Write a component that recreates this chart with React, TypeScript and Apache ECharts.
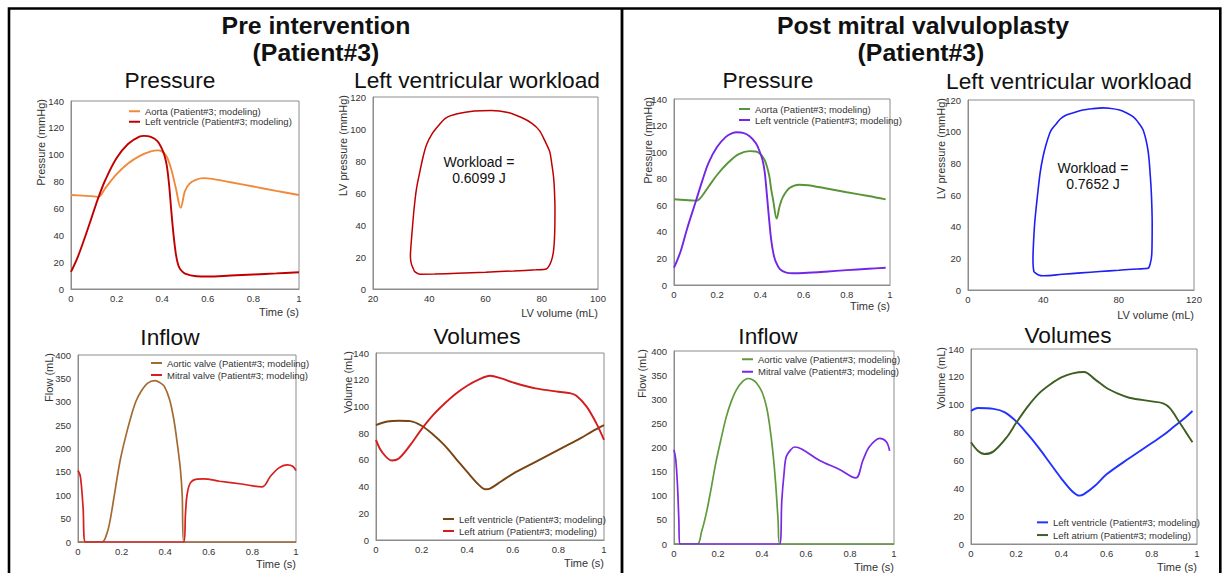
import React, { useEffect, useRef } from 'react';
import * as echarts from 'echarts';

type Pt = [number, number];

// ---------- Pre intervention data ----------
const prePressureAorta: Pt[] = [
  [0, 70], [0.05, 69.5], [0.1, 69], [0.12, 68.6], [0.15, 75], [0.2, 85.5], [0.25, 93.5], [0.3, 99],
  [0.35, 102.5], [0.38, 103.2], [0.4, 102.3], [0.42, 98.5], [0.44, 89], [0.46, 75], [0.481, 60.5],
  [0.5, 73], [0.52, 78.5], [0.55, 81.5], [0.58, 82.6], [0.62, 82], [0.7, 79.5], [0.8, 76.3], [0.9, 73.1], [1.0, 70],
];
const prePressureLV: Pt[] = [
  [0, 12.8], [0.03, 24], [0.06, 38], [0.09, 53], [0.12, 68], [0.15, 81], [0.2, 97.5], [0.25, 108],
  [0.3, 113.5], [0.32, 114], [0.35, 113.3], [0.38, 110], [0.4, 104], [0.41, 99.5], [0.42, 92],
  [0.43, 78], [0.44, 58], [0.45, 40], [0.46, 26], [0.47, 18], [0.48, 14.5], [0.5, 11.5], [0.55, 9.5],
  [0.6, 9.3], [0.7, 10], [0.8, 10.8], [0.9, 11.6], [1.0, 12.5],
];
const prePVLoop: Pt[] = [
  [34.8, 10.8], [36.6, 9.2], [42, 9.3], [50, 9.8], [60, 10.5], [70, 11.3], [78, 12], [81.6, 12.5],
  [83.3, 17], [84.2, 24], [84.6, 35], [84.7, 50], [84.5, 62], [84.2, 70], [83.5, 79], [82.8, 86],
  [81, 93], [79.2, 99], [76.5, 103.5], [73, 107], [68, 110.3], [62, 111.6], [56, 111.2], [50, 109.5],
  [46, 107], [43.7, 103], [41, 97], [39, 90], [37.8, 82.5], [36.5, 72], [35.4, 62], [34.6, 50],
  [34, 38], [33.5, 27], [33.3, 21], [33.6, 16], [34.8, 10.8],
];
const preFlowAortic: Pt[] = [
  [0, 0], [0.11, 0], [0.133, 19], [0.148, 48], [0.17, 110], [0.194, 176], [0.22, 228], [0.243, 268],
  [0.265, 300], [0.289, 322], [0.32, 340], [0.353, 345], [0.375, 341], [0.396, 333], [0.42, 305],
  [0.44, 261], [0.457, 205], [0.47, 154], [0.478, 100], [0.485, 0], [1.0, 0],
];
const preFlowMitral: Pt[] = [
  [0, 153], [0.011, 140], [0.023, 76], [0.034, 0], [0.485, 0], [0.493, 60], [0.5, 100], [0.515, 126],
  [0.546, 134.5], [0.576, 135], [0.65, 130], [0.75, 124], [0.845, 118], [0.882, 140], [0.92, 158],
  [0.96, 165], [0.985, 162], [1.0, 153],
];
const preVolumeLV: Pt[] = [
  [0, 86], [0.05, 88.7], [0.1, 89.3], [0.15, 89], [0.2, 85.5], [0.25, 79], [0.3, 71], [0.35, 61],
  [0.4, 51], [0.45, 41.5], [0.48, 38], [0.5, 38.5], [0.55, 44], [0.6, 49.5], [0.7, 58.5], [0.8, 67.5],
  [0.85, 72], [0.9, 76.5], [0.95, 81.5], [1.0, 86],
];
const preVolumeLA: Pt[] = [
  [0, 75], [0.026, 66], [0.07, 59.5], [0.1, 61], [0.15, 71], [0.2, 83], [0.25, 93.5], [0.3, 102],
  [0.35, 109.5], [0.4, 115.5], [0.45, 120], [0.5, 123], [0.55, 121], [0.6, 118], [0.7, 113.5],
  [0.8, 111], [0.85, 110], [0.879, 108], [0.923, 100], [0.966, 87.5], [1.0, 75],
];

// ---------- Post mitral valvuloplasty data ----------
const postPressureAorta: Pt[] = [
  [0, 64.5], [0.05, 64], [0.1, 63.5], [0.11, 63.7], [0.13, 67], [0.16, 74], [0.2, 83], [0.25, 92],
  [0.3, 98.5], [0.35, 100.8], [0.38, 100.5], [0.4, 98.5], [0.42, 94], [0.44, 83], [0.45, 72],
  [0.46, 63], [0.475, 50], [0.49, 60], [0.505, 66.5], [0.535, 73], [0.58, 75.5], [0.62, 75.1],
  [0.7, 72.8], [0.8, 69.8], [0.9, 67], [0.98, 64.5],
];
const postPressureLV: Pt[] = [
  [0, 13], [0.03, 25], [0.06, 42], [0.1, 62.5], [0.13, 78], [0.16, 92], [0.2, 104], [0.24, 111.5],
  [0.27, 114.3], [0.29, 115], [0.32, 114.5], [0.35, 112], [0.38, 106.5], [0.4, 99], [0.41, 94],
  [0.42, 85], [0.43, 68], [0.44, 50], [0.45, 34], [0.46, 24], [0.47, 18], [0.49, 12], [0.52, 9.3],
  [0.55, 8.8], [0.6, 9], [0.7, 10], [0.8, 11.2], [0.9, 12.2], [0.98, 13],
];
const postPVLoop: Pt[] = [
  [35, 11.5], [37.5, 9.5], [40, 9], [50, 9.9], [60, 10.8], [70, 11.7], [80, 12.5], [90, 13.3],
  [95.6, 13.7], [96.8, 16.8], [97.6, 23], [97.8, 42], [97.4, 60], [96.8, 72], [95.6, 88], [93, 101],
  [90, 106.5], [87.6, 109.5], [84, 112], [80.5, 113.7], [75, 114.8], [71.7, 115], [66, 114.5],
  [61, 113.7], [56, 112], [52.2, 110.5], [49, 108], [46.9, 105], [44.5, 101.5], [43.4, 99],
  [41.5, 92], [39.8, 84], [38.3, 74], [37.2, 63], [36.2, 52], [35.4, 42], [34.8, 30], [34.5, 20],
  [34.6, 15], [35, 11.5],
];
const postFlowAortic: Pt[] = [
  [0, 0], [0.105, 0], [0.125, 25], [0.147, 64], [0.17, 118], [0.19, 168], [0.215, 220], [0.238, 264],
  [0.26, 295], [0.283, 319], [0.31, 336], [0.336, 343], [0.355, 341], [0.374, 334], [0.4, 315],
  [0.42, 285], [0.435, 245], [0.45, 188], [0.462, 125], [0.473, 50], [0.48, 0], [1.0, 0],
];
const postFlowMitral: Pt[] = [
  [0, 195], [0.008, 175], [0.016, 120], [0.022, 50], [0.026, 0], [0.48, 0], [0.49, 90], [0.5, 145],
  [0.51, 181], [0.53, 195], [0.548, 201], [0.58, 197], [0.662, 173], [0.75, 155], [0.826, 137],
  [0.859, 174], [0.889, 202], [0.935, 219], [0.965, 212], [0.98, 193],
];
const postVolumeLV: Pt[] = [
  [0, 95.5], [0.03, 97.6], [0.1, 97], [0.15, 94.5], [0.2, 88], [0.25, 79], [0.3, 69], [0.35, 58],
  [0.4, 47], [0.45, 37.5], [0.48, 34.7], [0.5, 35.8], [0.55, 42], [0.6, 50], [0.7, 61.5],
  [0.8, 72.5], [0.85, 78], [0.9, 84.5], [0.95, 91], [0.98, 95.5],
];
const postVolumeLA: Pt[] = [
  [0, 73], [0.03, 67], [0.06, 64.6], [0.1, 66.5], [0.16, 77], [0.2, 87], [0.25, 98.5], [0.3, 108],
  [0.35, 114.5], [0.4, 119.6], [0.45, 122.5], [0.5, 123.5], [0.55, 118], [0.6, 112], [0.65, 108],
  [0.7, 105], [0.8, 102.4], [0.85, 101], [0.88, 97.5], [0.92, 88], [0.95, 80.5], [0.98, 73],
];

// ---------- Texts ----------
const LABELS: Record<string, string> = {
  prePAo: 'Aorta (Patient#3; modeling)',
  prePLV: 'Left ventricle (Patient#3; modeling)',
  prePV: 'LV PV loop',
  preFAo: 'Aortic valve (Patient#3; modeling)',
  preFMi: 'Mitral valve (Patient#3; modeling)',
  preVLV: 'Left ventricle (Patient#3; modeling)',
  preVLA: 'Left atrium (Patient#3; modeling)',
  postPAo: 'Aorta (Patient#3; modeling)',
  postPLV: 'Left ventricle (Patient#3; modeling)',
  postPV: 'LV PV loop',
  postFAo: 'Aortic valve (Patient#3; modeling)',
  postFMi: 'Mitral valve (Patient#3; modeling)',
  postVLV: 'Left ventricle (Patient#3; modeling)',
  postVLA: 'Left atrium (Patient#3; modeling)',
};
const preWorkload = 'Workload =\n0.6099 J';
const postWorkload = 'Workload =\n0.7652 J';

const FONT = '"Liberation Sans", Arial, Helvetica, sans-serif';
const AX = '#8c8c8c';
const TXT = '#333333';

function xAxis(gridIndex: number, min: number, max: number, interval: number, name: string, pad: number) {
  return {
    type: 'value', gridIndex, min, max, interval,
    name, nameLocation: 'end', nameGap: 0, nameMoveOverlap: false,
    nameTextStyle: { fontSize: 11, color: TXT, fontFamily: FONT, align: 'right', verticalAlign: 'top', padding: [pad, 0, 0, 0] },
    axisLine: { show: true, onZero: false, lineStyle: { color: AX, width: 1 } },
    axisTick: { show: false },
    splitLine: { show: false },
    axisLabel: { fontSize: 9.5, color: TXT, margin: 4, fontFamily: FONT },
  };
}
function yAxis(gridIndex: number, min: number, max: number, interval: number, name: string, gap: number) {
  return {
    type: 'value', gridIndex, min, max, interval,
    name, nameLocation: 'end', nameGap: 2, nameRotate: 90, nameMoveOverlap: false,
    nameTextStyle: { fontSize: 11, color: TXT, fontFamily: FONT, align: 'right', verticalAlign: 'bottom', padding: [0, 0, gap, 0] },
    axisLine: { show: true, onZero: false, lineStyle: { color: AX, width: 1 } },
    axisTick: { show: false },
    splitLine: { show: false },
    axisLabel: { fontSize: 9.5, color: TXT, margin: 7, fontFamily: FONT },
  };
}
function line(name: string, gi: number, data: Pt[], color: string, width: number, smooth: number) {
  return {
    type: 'line', name, xAxisIndex: gi, yAxisIndex: gi, data,
    showSymbol: false, symbol: 'none', smooth,
    lineStyle: { color, width }, itemStyle: { color },
    silent: true, animation: false,
  };
}
function legend(names: string[], left: number, top: number, spacing: number) {
  return {
    show: true, orient: 'vertical', left, top, data: names, icon: 'rect',
    itemWidth: 11, itemHeight: 2, itemGap: 0, padding: 0, selectedMode: false,
    formatter: (n: string) => LABELS[n],
    textStyle: { fontSize: 9.5, color: TXT, fontFamily: FONT, lineHeight: spacing },
  };
}
function grid(left: number, top: number, width: number, height: number) {
  return { left, top, width, height, show: true, borderColor: AX, borderWidth: 1, containLabel: false, outerBoundsMode: 'none' };
}
function text(t: string, x: number, y: number, font: string, lh?: number) {
  return {
    type: 'text', x, y, silent: true,
    style: {
      text: t, font, fill: '#111', textFill: '#111',
      align: 'center', textAlign: 'center', verticalAlign: 'middle', textVerticalAlign: 'middle',
      lineHeight: lh, textLineHeight: lh,
    },
  };
}

const C = {
  preAo: '#f08a3a', preLV: '#c00000',
  preFAo: '#a36a32', preFMi: '#d81e1e',
  preVLV: '#7a4312', preVLA: '#d41c1c',
  postAo: '#5a9438', postLV: '#7326e6', postPV: '#1e1ef5',
  postFAo: '#5f9a3c', postFMi: '#7a28e6',
  postVLV: '#2233ff', postVLA: '#3f5e22',
};

export default function App() {
  const ref = useRef<HTMLDivElement>(null);
  useEffect(() => {
    if (!ref.current) return;
    const chart = echarts.init(ref.current, undefined, { renderer: 'svg' });
    const TITLE = `bold 24.8px ${FONT}`;
    const SUB = `22.7px ${FONT}`;
    const option: any = {
      animation: false,
      backgroundColor: '#ffffff',
      textStyle: { fontFamily: FONT },
      grid: [
        grid(71, 101, 228, 188),
        grid(373, 97, 225, 192),
        grid(78, 355, 218, 187),
        grid(376, 353, 228, 187),
        grid(674, 99, 216, 186),
        grid(968, 100, 226, 190),
        grid(674, 351, 220, 193),
        grid(971, 349, 226, 195),
      ],
      xAxis: [
        xAxis(0, 0, 1, 0.2, 'Time (s)', 17),
        xAxis(1, 20, 100, 20, 'LV volume (mL)', 18),
        xAxis(2, 0, 1, 0.2, 'Time (s)', 16),
        xAxis(3, 0, 1, 0.2, 'Time (s)', 17),
        xAxis(4, 0, 1, 0.2, 'Time (s)', 15),
        xAxis(5, 0, 120, 40, 'LV volume (mL)', 19),
        xAxis(6, 0, 1, 0.2, 'Time (s)', 17),
        xAxis(7, 0, 1, 0.2, 'Time (s)', 17),
      ],
      yAxis: [
        yAxis(0, 0, 140, 20, 'Pressure (mmHg)', 25),
        yAxis(1, 0, 120, 20, 'LV pressure (mmHg)', 25),
        yAxis(2, 0, 400, 50, 'Flow (mL)', 24),
        yAxis(3, 0, 140, 20, 'Volume (mL)', 23),
        yAxis(4, 0, 140, 20, 'Pressure (mmHg)', 21),
        yAxis(5, 0, 120, 20, 'LV pressure (mmHg)', 22),
        yAxis(6, 0, 400, 50, 'Flow (mL)', 27),
        yAxis(7, 0, 140, 20, 'Volume (mL)', 25),
      ],
      legend: [
        legend(['prePAo', 'prePLV'], 129, 106, 10.5),
        legend(['preFAo', 'preFMi'], 151, 357, 12),
        legend(['preVLV', 'preVLA'], 443, 513, 12),
        legend(['postPAo', 'postPLV'], 739, 103.5, 11),
        legend(['postFAo', 'postFMi'], 742, 353, 12.5),
        legend(['postVLV', 'postVLA'], 1037, 516, 12.7),
      ],
      series: [
        line('prePAo', 0, prePressureAorta, C.preAo, 1.9, 0.35),
        line('prePLV', 0, prePressureLV, C.preLV, 1.9, 0.35),
        line('prePV', 1, prePVLoop, C.preLV, 1.5, 0.3),
        line('preFAo', 2, preFlowAortic, C.preFAo, 1.7, 0.35),
        line('preFMi', 2, preFlowMitral, C.preFMi, 1.7, 0.35),
        line('preVLV', 3, preVolumeLV, C.preVLV, 1.9, 0.35),
        line('preVLA', 3, preVolumeLA, C.preVLA, 1.9, 0.35),
        line('postPAo', 4, postPressureAorta, C.postAo, 1.9, 0.35),
        line('postPLV', 4, postPressureLV, C.postLV, 1.9, 0.35),
        line('postPV', 5, postPVLoop, C.postPV, 1.6, 0.3),
        line('postFAo', 6, postFlowAortic, C.postFAo, 1.7, 0.35),
        line('postFMi', 6, postFlowMitral, C.postFMi, 1.7, 0.35),
        line('postVLV', 7, postVolumeLV, C.postVLV, 1.9, 0.35),
        line('postVLA', 7, postVolumeLA, C.postVLA, 1.9, 0.35),
      ],
      graphic: [
        { type: 'rect', silent: true, z: 100, shape: { x: 9, y: 8.5, width: 1211.3, height: 600 }, style: { fill: 'none', stroke: '#000', lineWidth: 2.6 } },
        { type: 'line', silent: true, z: 100, shape: { x1: 622, y1: 8, x2: 622, y2: 580 }, style: { stroke: '#000', lineWidth: 2.8 } },
        text('Pre intervention', 316, 25, TITLE),
        text('(Patient#3)', 316, 52, TITLE),
        text('Post mitral valvuloplasty', 923, 25, TITLE),
        text('(Patient#3)', 921, 52, TITLE),
        text('Pressure', 170, 80, SUB),
        text('Left ventricular workload', 477, 80, SUB),
        text('Inflow', 170, 337, SUB),
        text('Volumes', 477, 336, SUB),
        text('Pressure', 768, 80, SUB),
        text('Left ventricular workload', 1069, 81, SUB),
        text('Inflow', 768, 336, SUB),
        text('Volumes', 1068, 335, SUB),
        text(preWorkload, 479, 170, `14px ${FONT}`, 16),
        text(postWorkload, 1093, 176, `14px ${FONT}`, 16),
      ],
    };
    chart.setOption(option);
    return () => chart.dispose();
  }, []);
  return (
    <div
      ref={ref}
      style={{ position: 'absolute', left: 0, top: 0, width: 1224, height: 573, background: '#fff' }}
    />
  );
}
